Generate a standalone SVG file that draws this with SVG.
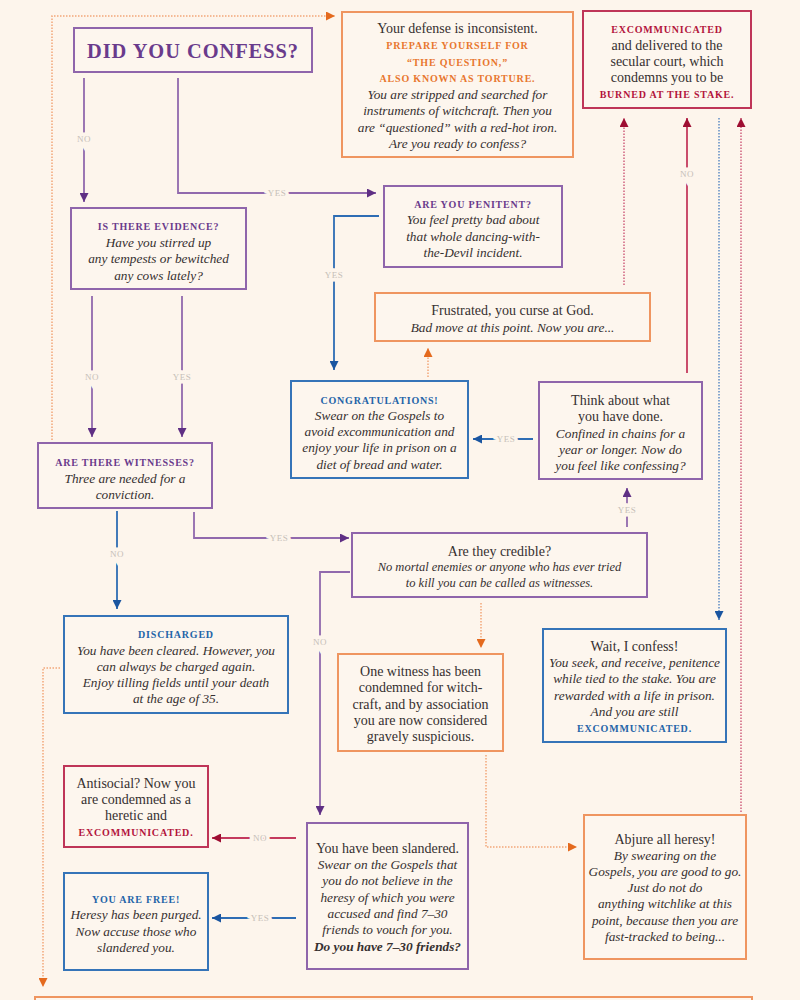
<svg xmlns="http://www.w3.org/2000/svg" width="800" height="1000" viewBox="0 0 800 1000">
<style>
.bg{fill:#fdf5ec}
.box{fill:#fdf6ee;stroke-width:2}
.bp{stroke:#8f65ab}.bo{stroke:#ef9560}.bc{stroke:#bf3558}.bb{stroke:#3574b8}
text{font-family:"Liberation Serif","Times New Roman",serif;text-anchor:middle;dominant-baseline:central}
.t{font-size:14px;fill:#363030}
.i{font-style:italic;font-size:13.3px}
.s{font-size:12.5px}
.h{font-size:10px;font-weight:bold;letter-spacing:0.8px}
.hp{fill:#6a3b8c}.ho{fill:#e8772e}.hc{fill:#b3143c}.hb{fill:#2464a8}
.title{font-size:21px;font-weight:bold;fill:#6a3b8c;letter-spacing:1px}
.c{fill:none;stroke-width:1.8}
.cp{stroke:#9169ad}.cb{stroke:#2e6db4}.cc{stroke:#c43a5e}
.d{fill:none;stroke-width:1.5;stroke-dasharray:1.5 1.5}
.do{stroke:#f2a678}.dc{stroke:#d0607e}.db{stroke:#5f8cc4}
.lbl{font-size:9px;fill:#c6bfb8;letter-spacing:0.5px;paint-order:stroke;stroke:#fdf5ec;stroke-width:7px}
</style>
<defs>
<marker id="ap" viewBox="0 0 10 10" refX="10" refY="5" markerWidth="11" markerHeight="9" markerUnits="userSpaceOnUse" orient="auto"><path d="M0,0L10,5L0,10z" fill="#5f2f84"/></marker>
<marker id="ab" viewBox="0 0 10 10" refX="10" refY="5" markerWidth="11" markerHeight="9" markerUnits="userSpaceOnUse" orient="auto"><path d="M0,0L10,5L0,10z" fill="#1a55a0"/></marker>
<marker id="ac" viewBox="0 0 10 10" refX="10" refY="5" markerWidth="11" markerHeight="9" markerUnits="userSpaceOnUse" orient="auto"><path d="M0,0L10,5L0,10z" fill="#9e0e32"/></marker>
<marker id="ao" viewBox="0 0 10 10" refX="10" refY="5" markerWidth="11" markerHeight="9" markerUnits="userSpaceOnUse" orient="auto"><path d="M0,0L10,5L0,10z" fill="#e46a1e"/></marker>
</defs>
<rect class="bg" x="0" y="0" width="800" height="1000"/>

<g id="connectors">
<path class="d do" d="M52,440V16H335" marker-end="url(#ao)"/>
<path class="c cp" d="M84,78V202" marker-end="url(#ap)"/>
<text class="lbl" x="84" y="139">NO</text>
<path class="c cp" d="M178,78V193H376" marker-end="url(#ap)"/>
<text class="lbl" x="277" y="193">YES</text>
<path class="c cp" d="M92,296V437" marker-end="url(#ap)"/>
<text class="lbl" x="92" y="377">NO</text>
<path class="c cp" d="M182,296V437" marker-end="url(#ap)"/>
<text class="lbl" x="182" y="377">YES</text>
<path class="c cb" d="M379,216H334V370" marker-end="url(#ab)"/>
<text class="lbl" x="334" y="275">YES</text>
<path class="d do" d="M428,377V348" marker-end="url(#ao)"/>
<path class="c cb" d="M533,439H473" marker-end="url(#ab)"/>
<text class="lbl" x="506" y="439">YES</text>
<path class="c cp" d="M627,527V488" marker-end="url(#ap)"/>
<text class="lbl" x="627" y="510">YES</text>
<path class="d dc" d="M624,285V118" marker-end="url(#ac)"/>
<path class="c cc" d="M687,373V118" marker-end="url(#ac)"/>
<text class="lbl" x="687" y="174">NO</text>
<path class="d db" d="M719,118V620" marker-end="url(#ab)"/>
<path class="d dc" d="M741,812V118" marker-end="url(#ac)"/>
<path class="c cb" d="M117,511V609" marker-end="url(#ab)"/>
<text class="lbl" x="117" y="554">NO</text>
<path class="c cp" d="M194,512V538H349" marker-end="url(#ap)"/>
<text class="lbl" x="279" y="538">YES</text>
<path class="c cp" d="M350,572H320V815" marker-end="url(#ap)"/>
<text class="lbl" x="320" y="642">NO</text>
<path class="d do" d="M481,603V648" marker-end="url(#ao)"/>
<path class="d do" d="M486,755V847H577" marker-end="url(#ao)"/>
<path class="c cc" d="M296,838H212" marker-end="url(#ac)"/>
<text class="lbl" x="260" y="838">NO</text>
<path class="c cb" d="M296,918H212" marker-end="url(#ab)"/>
<text class="lbl" x="260" y="918">YES</text>
<path class="d do" d="M60,668H43V987" marker-end="url(#ao)"/>
</g>

<g id="confess">
<rect class="box bp" x="74" y="28" width="238" height="44"/>
<text class="title" x="193" y="51" textLength="212" lengthAdjust="spacingAndGlyphs">DID YOU CONFESS?</text>
</g>

<g id="torture">
<rect class="box bo" x="342" y="12" width="231" height="145"/>
<text class="t" x="457.5" y="28">Your defense is inconsistent.</text>
<text class="h ho" x="457.5" y="45">PREPARE YOURSELF FOR</text>
<text class="h ho" x="457.5" y="62">“THE QUESTION,”</text>
<text class="h ho" x="457.5" y="78">ALSO KNOWN AS TORTURE.</text>
<text class="t i" x="457.5" y="94">You are stripped and searched for</text>
<text class="t i" x="457.5" y="110">instruments of witchcraft. Then you</text>
<text class="t i" x="457.5" y="127">are “questioned” with a red-hot iron.</text>
<text class="t i" x="457.5" y="143">Are you ready to confess?</text>
</g>

<g id="excommunicated">
<rect class="box bc" x="583" y="11" width="168" height="97"/>
<text class="h hc" x="667" y="29">EXCOMMUNICATED</text>
<text class="t" x="667" y="45">and delivered to the</text>
<text class="t" x="667" y="61">secular court, which</text>
<text class="t" x="667" y="77">condemns you to be</text>
<text class="h hc" x="667" y="94">BURNED AT THE STAKE.</text>
</g>

<g id="evidence">
<rect class="box bp" x="71" y="208" width="175" height="81"/>
<text class="h hp" x="158.5" y="226">IS THERE EVIDENCE?</text>
<text class="t i" x="158.5" y="242">Have you stirred up</text>
<text class="t i" x="158.5" y="258">any tempests or bewitched</text>
<text class="t i" x="158.5" y="275">any cows lately?</text>
</g>

<g id="penitent">
<rect class="box bp" x="384" y="186" width="178" height="81"/>
<text class="h hp" x="473" y="204">ARE YOU PENITENT?</text>
<text class="t i" x="473" y="219">You feel pretty bad about</text>
<text class="t i" x="473" y="236">that whole dancing-with-</text>
<text class="t i" x="473" y="252">the-Devil incident.</text>
</g>

<g id="frustrated">
<rect class="box bo" x="375" y="293" width="275" height="48"/>
<text class="t" x="512.5" y="310">Frustrated, you curse at God.</text>
<text class="t i" x="512.5" y="327">Bad move at this point. Now you are...</text>
</g>

<g id="congratulations">
<rect class="box bb" x="291" y="381" width="177" height="97"/>
<text class="h hb" x="379.5" y="400">CONGRATULATIONS!</text>
<text class="t i" x="379.5" y="415">Swear on the Gospels to</text>
<text class="t i" x="379.5" y="431">avoid excommunication and</text>
<text class="t i" x="379.5" y="447">enjoy your life in prison on a</text>
<text class="t i" x="379.5" y="464">diet of bread and water.</text>
</g>

<g id="think">
<rect class="box bp" x="539" y="382" width="163" height="97"/>
<text class="t" x="620.5" y="400">Think about what</text>
<text class="t" x="620.5" y="416">you have done.</text>
<text class="t i" x="620.5" y="433">Confined in chains for a</text>
<text class="t i" x="620.5" y="449">year or longer. Now do</text>
<text class="t i" x="620.5" y="465">you feel like confessing?</text>
</g>

<g id="witnesses">
<rect class="box bp" x="38" y="443" width="174" height="65"/>
<text class="h hp" x="125" y="462">ARE THERE WITNESSES?</text>
<text class="t i" x="125" y="478">Three are needed for a</text>
<text class="t i" x="125" y="494">conviction.</text>
</g>

<g id="credible">
<rect class="box bp" x="352" y="533" width="295" height="64"/>
<text class="t" x="499.5" y="551">Are they credible?</text>
<text class="t i s" x="499.5" y="567">No mortal enemies or anyone who has ever tried</text>
<text class="t i s" x="499.5" y="583">to kill you can be called as witnesses.</text>
</g>

<g id="discharged">
<rect class="box bb" x="64" y="616" width="224" height="97"/>
<text class="h hb" x="176" y="634">DISCHARGED</text>
<text class="t i" x="176" y="650">You have been cleared. However, you</text>
<text class="t i" x="176" y="666">can always be charged again.</text>
<text class="t i" x="176" y="682">Enjoy tilling fields until your death</text>
<text class="t i" x="176" y="698">at the age of 35.</text>
</g>

<g id="onewitness">
<rect class="box bo" x="338" y="654" width="165" height="97"/>
<text class="t" x="420.5" y="671">One witness has been</text>
<text class="t" x="420.5" y="687">condemned for witch-</text>
<text class="t" x="420.5" y="704">craft, and by association</text>
<text class="t" x="420.5" y="720">you are now considered</text>
<text class="t" x="420.5" y="736">gravely suspicious.</text>
</g>

<g id="waitconfess">
<rect class="box bb" x="543" y="629" width="183" height="113"/>
<text class="t" x="634.5" y="646">Wait, I confess!</text>
<text class="t i" x="634.5" y="662">You seek, and receive, penitence</text>
<text class="t i" x="634.5" y="678">while tied to the stake. You are</text>
<text class="t i" x="634.5" y="695">rewarded with a life in prison.</text>
<text class="t i" x="634.5" y="711">And you are still</text>
<text class="h hb" x="634.5" y="728">EXCOMMUNICATED.</text>
</g>

<g id="antisocial">
<rect class="box bc" x="64" y="766" width="144" height="81"/>
<text class="t" x="136" y="783">Antisocial? Now you</text>
<text class="t" x="136" y="799">are condemned as a</text>
<text class="t" x="136" y="815">heretic and</text>
<text class="h hc" x="136" y="832">EXCOMMUNICATED.</text>
</g>

<g id="free">
<rect class="box bb" x="64" y="873" width="144" height="97"/>
<text class="h hb" x="136" y="899">YOU ARE FREE!</text>
<text class="t i" x="136" y="914">Heresy has been purged.</text>
<text class="t i" x="136" y="931">Now accuse those who</text>
<text class="t i" x="136" y="947">slandered you.</text>
</g>

<g id="slandered">
<rect class="box bp" x="307" y="823" width="161" height="146"/>
<text class="t" x="387.5" y="848">You have been slandered.</text>
<text class="t i" x="387.5" y="864">Swear on the Gospels that</text>
<text class="t i" x="387.5" y="880">you do not believe in the</text>
<text class="t i" x="387.5" y="897">heresy of which you were</text>
<text class="t i" x="387.5" y="913">accused and find 7–30</text>
<text class="t i" x="387.5" y="929">friends to vouch for you.</text>
<text class="t i" x="387.5" y="946" font-weight="bold">Do you have 7–30 friends?</text>
</g>

<g id="abjure">
<rect class="box bo" x="584" y="815" width="162" height="144"/>
<text class="t" x="665" y="839">Abjure all heresy!</text>
<text class="t i" x="665" y="855">By swearing on the</text>
<text class="t i" x="665" y="871">Gospels, you are good to go.</text>
<text class="t i" x="665" y="887">Just do not do</text>
<text class="t i" x="665" y="903">anything witchlike at this</text>
<text class="t i" x="665" y="920">point, because then you are</text>
<text class="t i" x="665" y="936">fast-tracked to being...</text>
</g>

<g id="bottom">
<rect class="box bo" x="35" y="997" width="717" height="20"/>
</g>
</svg>
